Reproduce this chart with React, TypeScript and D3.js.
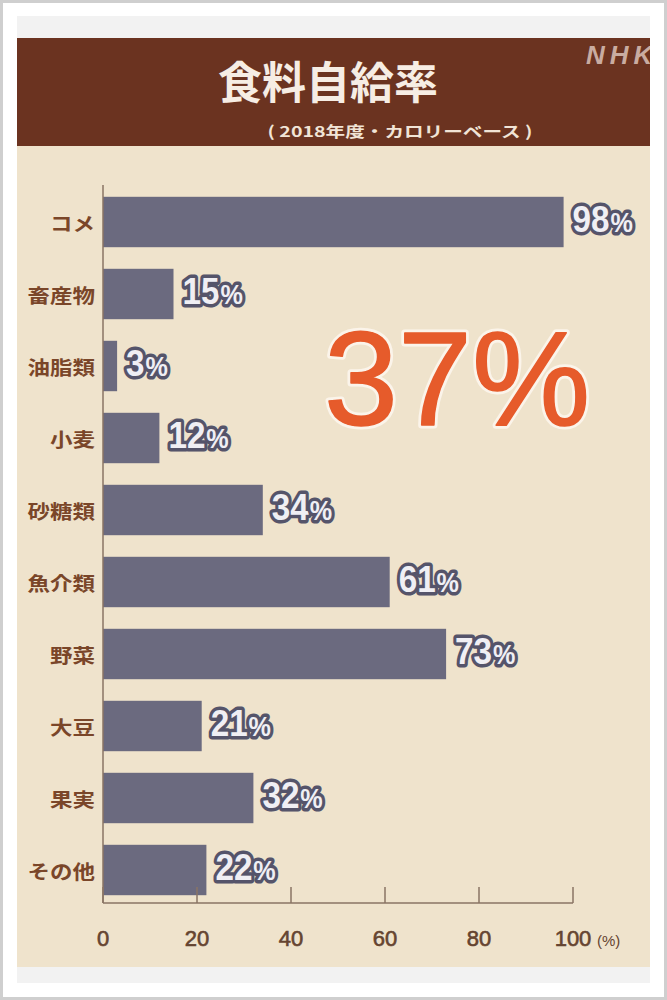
import React from "react";
import * as d3 from "d3";

const categories = ["コメ", "畜産物", "油脂類", "小麦", "砂糖類", "魚介類", "野菜", "大豆", "果実", "その他"];
const values = [98, 15, 3, 12, 34, 61, 73, 21, 32, 22];
const ticks = [0, 20, 40, 60, 80, 100];
const title = "食料自給率";
const subtitle = "( 2018年度・カロリーベース )";
const overall = "37";

const W = 667;
const H = 1000;
const JP = "'Noto Sans CJK JP', 'Noto Sans', sans-serif";
const LAT = "'Liberation Sans', Arial, sans-serif";

export default function App() {
  const x = d3.scaleLinear().domain([0, 100]).range([103, 573]);
  const y = d3.scaleBand<string>().domain(categories).range([186, 906]).paddingInner(0.3).paddingOuter(0.15);
  const axisY = 903;
  const bw = y.bandwidth();

  return (
    <div style={{ position: "absolute", left: 0, top: 0 }}>
      <svg width={W} height={H} viewBox={`0 0 ${W} ${H}`}>
        <defs>
          <clipPath id="hdr">
            <rect x={17} y={38} width={633} height={108} />
          </clipPath>
        </defs>
        <rect x={0} y={0} width={W} height={H} fill="#ffffff" />
        <rect x={1.5} y={1.5} width={W - 3} height={H - 3} fill="none" stroke="#cfcfcf" strokeWidth={3} />
        <rect x={17} y={16} width={633} height={22} fill="#f2f2f2" />
        <rect x={17} y={38} width={633} height={108} fill="#6b3320" />
        <rect x={17} y={146} width={633} height={821} fill="#efe3cc" />
        <rect x={17} y={967} width={633} height={16} fill="#f2f2f2" />

        {/* header texts */}
        <text x={328} y={80} textAnchor="middle" dominantBaseline="central" fontFamily={JP} fontWeight={700} fontSize={44} fill="#f6ede4">
          {title}
        </text>
        <text x={400} y={130} textAnchor="middle" dominantBaseline="central" fontFamily={JP} fontWeight={700} fontSize={15} fill="#f1e4d6" textLength={265} lengthAdjust="spacingAndGlyphs">
          {subtitle}
        </text>
        <g clipPath="url(#hdr)">
          <text x={586} y={64} fontFamily={LAT} fontWeight={700} fontStyle="italic" fontSize={26} fill="#c9aca1" letterSpacing={5}>
            NHK
          </text>
        </g>

        {/* big overall number */}
        <text x={324} y={425} fontFamily={LAT} fontSize={133} fill="#e65b2b" stroke="#fbf4ea" strokeWidth={7} paintOrder="stroke" strokeLinejoin="round">
          {overall}%
        </text>
        <text x={324} y={425} fontFamily={LAT} fontSize={133} fill="#e65b2b" stroke="#e65b2b" strokeWidth={1.5} strokeLinejoin="round">
          {overall}%
        </text>

        {/* bars */}
        {categories.map((c, i) => (
          <rect key={c} x={x(0)} y={y(c)} width={x(values[i]) - x(0)} height={bw} fill="#6b6a7f" />
        ))}

        {/* value labels */}
        {categories.map((c, i) => {
          const cy = (y(c) as number) + bw / 2;
          return (
            <g key={"v" + c} transform={`translate(${x(values[i]) + 9},${cy + 10}) scale(0.9,1)`}>
              <text x={0} y={0} fontFamily={LAT} fontWeight={700} fill="#f0eff4" stroke="#55546a" strokeWidth={7} paintOrder="stroke" strokeLinejoin="round">
                <tspan fontSize={37}>{values[i]}</tspan>
                <tspan fontSize={28} dx={1}>%</tspan>
              </text>
            </g>
          );
        })}

        {/* category labels */}
        {categories.map((c) => (
          <text key={"c" + c} x={95} y={(y(c) as number) + bw / 2} textAnchor="end" dominantBaseline="central" fontFamily={JP} fontWeight={700} fontSize={19} fill="#7a4629" textLength={c.length * 22.5} lengthAdjust="spacingAndGlyphs">
            {c}
          </text>
        ))}

        {/* axes */}
        <line x1={x(0)} x2={x(0)} y1={185} y2={axisY} stroke="#8a7565" strokeWidth={1.5} />
        <line x1={x(0)} x2={x(100)} y1={axisY} y2={axisY} stroke="#8a7565" strokeWidth={1.5} />
        {ticks.map((t) => (
          <line key={"t" + t} x1={x(t)} x2={x(t)} y1={axisY - 16} y2={axisY} stroke="#8a7565" strokeWidth={1.5} />
        ))}
        {ticks.map((t) => (
          <text key={"l" + t} x={x(t)} y={938} textAnchor="middle" dominantBaseline="central" fontFamily={LAT} fontSize={22} fill="#654430" stroke="#654430" strokeWidth={0.6}>
            {t}
          </text>
        ))}
        <text x={597} y={940} dominantBaseline="central" fontFamily={LAT} fontSize={15} fill="#654430">
          (%)
        </text>
      </svg>
    </div>
  );
}
